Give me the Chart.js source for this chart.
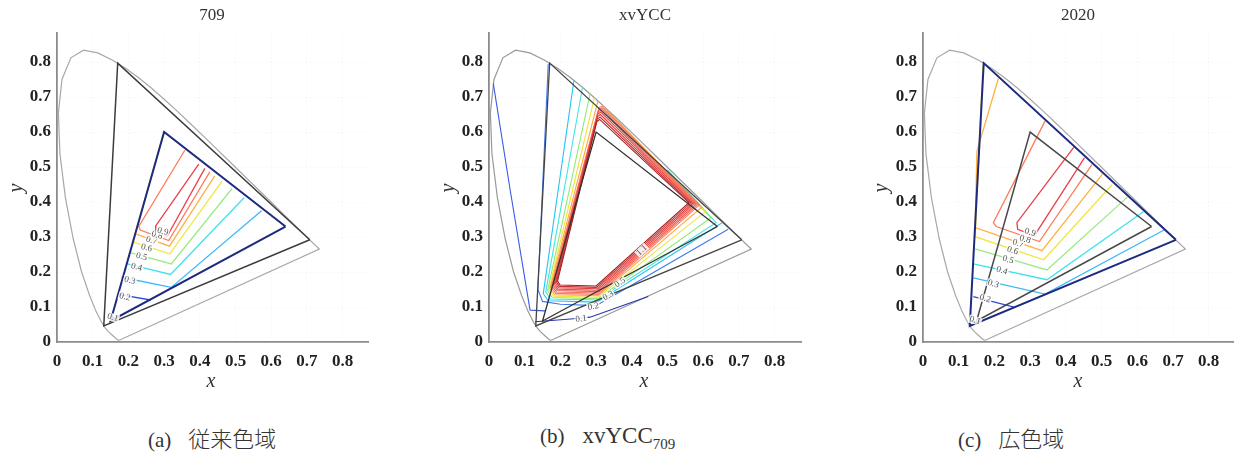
<!DOCTYPE html>
<html><head><meta charset="utf-8">
<script src="https://cdn.jsdelivr.net/npm/chart.js@4.4.1/dist/chart.umd.min.js"></script>
<style>
body{margin:0;background:#fff;width:1238px;height:459px;position:relative;overflow:hidden}
canvas{position:absolute;top:0}
.t{position:absolute;font-family:"Liberation Serif",serif;color:#333;transform:translate(-50%,-50%);white-space:nowrap;line-height:1}
.cap{position:absolute;top:438px;transform:translateY(-50%);white-space:nowrap;line-height:1;color:#333;font-size:21px}
.cap .l{font-family:"Liberation Serif",serif}
.cap .k{font-family:"Noto Sans CJK JP",sans-serif;font-weight:300;font-size:22px;margin-left:17px}
</style></head><body>
<canvas id="c1" width="385" height="400" style="left:0"></canvas>
<canvas id="c2" width="400" height="400" style="left:420px"></canvas>
<canvas id="c3" width="378" height="400" style="left:860px"></canvas>

<div class="t" style="left:212px;top:14px;font-size:17px">709</div>
<div class="t" style="left:645px;top:14px;font-size:17px">xvYCC</div>
<div class="t" style="left:1078px;top:14px;font-size:17px">2020</div>

<div class="t" style="left:211px;top:380px;font-size:20px;font-style:italic">x</div>
<div class="t" style="left:644px;top:380px;font-size:20px;font-style:italic">x</div>
<div class="t" style="left:1078px;top:380px;font-size:20px;font-style:italic">x</div>
<div class="t" style="left:15px;top:188px;font-size:20px;font-style:italic;transform:translate(-50%,-50%) rotate(-90deg)">y</div>
<div class="t" style="left:447px;top:188px;font-size:20px;font-style:italic;transform:translate(-50%,-50%) rotate(-90deg)">y</div>
<div class="t" style="left:880px;top:188px;font-size:20px;font-style:italic;transform:translate(-50%,-50%) rotate(-90deg)">y</div>

<div class="cap" style="left:148px"><span class="l">(a)</span><span class="k">従来色域</span></div>
<div class="cap" style="left:540px"><span class="l">(b)</span><span class="l" style="margin-left:18px;font-size:23px">xvYCC</span><sub class="l" style="font-size:15px">709</sub></div>
<div class="cap" style="left:958px"><span class="l">(c)</span><span class="k">広色域</span></div>

<script>
// ---------- data ----------
const tickVals = [0, 0.1, 0.2, 0.3, 0.4, 0.5, 0.6, 0.7, 0.8];

// spectral locus (x, y) closed by the purple line
const locus = [[0.1741,0.0050],[0.1714,0.0051],[0.1644,0.0109],[0.1566,0.0177],[0.1440,0.0297],[0.1355,0.0399],
 [0.1241,0.0578],[0.1096,0.0868],[0.0913,0.1327],[0.0687,0.2007],[0.0454,0.2950],[0.0235,0.4127],[0.0082,0.5384],
 [0.0039,0.6548],[0.0139,0.7502],[0.0389,0.8120],[0.0743,0.8338],[0.1142,0.8262],[0.1547,0.8059],[0.1929,0.7816],
 [0.2296,0.7543],[0.2658,0.7243],[0.3016,0.6923],[0.3373,0.6589],[0.3731,0.6245],[0.4087,0.5896],[0.4441,0.5547],
 [0.4788,0.5202],[0.5125,0.4866],[0.5448,0.4544],[0.5752,0.4242],[0.6029,0.3965],[0.6270,0.3725],[0.6658,0.3340],
 [0.6915,0.3083],[0.7079,0.2920],[0.7190,0.2809],[0.7260,0.2740],[0.7300,0.2700],[0.7334,0.2666],[0.7347,0.2653],
 [0.1741,0.0050]];

const rec709  = [[0.64,0.33],[0.30,0.60],[0.15,0.06],[0.64,0.33]];
const rec2020 = [[0.708,0.292],[0.170,0.797],[0.131,0.046],[0.708,0.292]];

// (a) contour polylines, levels 0.1 .. 0.9
const aLines = [
 [[0.153,0.072],[0.165,0.067]],
 [[0.172,0.136],[0.262,0.120]],
 [[0.181,0.185],[0.320,0.156],[0.573,0.375]],
 [[0.195,0.224],[0.318,0.193],[0.524,0.412]],
 [[0.203,0.256],[0.320,0.223],[0.490,0.438]],
 [[0.297,0.592],[0.212,0.286],[0.316,0.252],[0.462,0.459]],
 [[0.222,0.308],[0.315,0.274],[0.442,0.475]],
 [[0.358,0.548],[0.229,0.330],[0.233,0.320],[0.313,0.290],[0.428,0.486]],
 [[0.397,0.508],[0.276,0.331],[0.277,0.315],[0.309,0.303],[0.414,0.496]]
];
const aLabels = [['0.1',0.156,0.070],['0.2',0.190,0.129],['0.3',0.204,0.176],['0.4',0.223,0.214],['0.5',0.237,0.244],
 ['0.6',0.251,0.269],['0.7',0.265,0.290],['0.8',0.280,0.305],['0.9',0.296,0.316]];

// (c) contour polylines, levels 0.1 .. 0.9
const cLines = [
 [[0.133,0.062],[0.150,0.055]],
 [[0.141,0.130],[0.255,0.100]],
 [[0.141,0.183],[0.342,0.137],[0.675,0.320]],
 [[0.141,0.223],[0.347,0.178],[0.617,0.372]],
 [[0.146,0.266],[0.347,0.206],[0.572,0.414]],
 [[0.168,0.790],[0.146,0.301],[0.338,0.235],[0.530,0.450]],
 [[0.211,0.753],[0.151,0.545],[0.146,0.327],[0.333,0.261],[0.502,0.479]],
 [[0.342,0.632],[0.197,0.341],[0.205,0.330],[0.326,0.287],[0.473,0.507]],
 [[0.422,0.556],[0.263,0.341],[0.265,0.322],[0.312,0.304],[0.452,0.526]]
];
const cLabels = [['0.1',0.146,0.062],['0.2',0.174,0.124],['0.3',0.197,0.166],['0.4',0.221,0.204],['0.5',0.238,0.235],
 ['0.6',0.251,0.261],['0.7',0.266,0.282],['0.8',0.286,0.293],['0.9',0.300,0.313]];

// (b) contour polylines, outer (low) to inner (high)
const bLines = [
 [[0.012,0.739],[0.060,0.430],[0.115,0.091],[0.157,0.089]],
 [[0.129,0.058],[0.255,0.068],[0.283,0.071],[0.446,0.130]],
 [[0.166,0.795],[0.137,0.150],[0.150,0.116],[0.200,0.108],[0.300,0.104],[0.670,0.322]],
 [[0.238,0.748],[0.152,0.138],[0.166,0.118],[0.302,0.114],[0.652,0.340]],
 [[0.262,0.728],[0.159,0.143],[0.172,0.123],[0.303,0.120],[0.636,0.341],[0.500,0.492]],
 [[0.283,0.708],[0.164,0.147],[0.177,0.127],[0.305,0.124],[0.622,0.355],[0.400,0.585]],
 [[0.295,0.697],[0.168,0.150],[0.181,0.131],[0.306,0.128],[0.606,0.372],[0.330,0.660]],
 [[0.305,0.688],[0.171,0.153],[0.184,0.135],[0.306,0.132],[0.596,0.385],[0.318,0.676]],
 [[0.308,0.670],[0.174,0.156],[0.187,0.139],[0.306,0.136],[0.590,0.392],[0.316,0.673],[0.308,0.670]],
 [[0.307,0.664],[0.177,0.159],[0.189,0.143],[0.305,0.140],[0.585,0.393],[0.315,0.668],[0.307,0.664]],
 [[0.306,0.658],[0.180,0.162],[0.191,0.147],[0.304,0.144],[0.580,0.394],[0.314,0.663],[0.306,0.658]],
 [[0.305,0.651],[0.183,0.165],[0.193,0.151],[0.303,0.148],[0.575,0.395],[0.313,0.657],[0.305,0.651]],
 [[0.304,0.644],[0.186,0.168],[0.195,0.155],[0.302,0.152],[0.570,0.396],[0.312,0.650],[0.304,0.644]],
 [[0.303,0.637],[0.189,0.171],[0.197,0.159],[0.301,0.156],[0.565,0.397],[0.311,0.643],[0.303,0.637]],
 [[0.302,0.630],[0.192,0.174],[0.199,0.163],[0.300,0.160],[0.560,0.398],[0.310,0.636],[0.302,0.630]]
];
const bLabels = [['0.1',0.258,0.066],['0.2',0.292,0.101],['0.3',0.334,0.132],['0.5',0.367,0.170],['1.1',0.428,0.262]];

// ---------- styles ----------
const levelColors = ['#1c1c96','#2c4ce0','#3cb8f8','#3ee2ee','#98ec86','#efe63c','#ffb040','#ff7a58','#e8404c'];
const bColors = ['#3a5ae6','#2434b8','#3a78f0','#26c2f4','#40e6dc','#8eec74','#eee43e','#ffa83c',
 '#ff7a5a','#f86a58','#f05a50','#e84a48','#dc3c3c','#c83030','#a02020'];
const bAngles = [-0.12,-0.18,-0.5,-0.6,-0.75];

// ---------- helpers ----------
function line(pts, color, w) {
  return { data: pts.map(p => ({x: p[0], y: p[1]})), borderColor: color, borderWidth: w,
    showLine: true, pointRadius: 0, pointHoverRadius: 0, fill: false, tension: 0 };
}

const labelPlugin = {
  id: 'clabels',
  afterDatasetsDraw(chart, args, opts) {
    const {ctx, scales} = chart;
    ctx.save();
    ctx.font = '9px "Liberation Serif", serif';
    ctx.textAlign = 'center';
    ctx.textBaseline = 'middle';
    (opts.items || []).forEach((it, i) => {
      const px = scales.x.getPixelForValue(it[1]);
      const py = scales.y.getPixelForValue(it[2]);
      const ang = opts.angles ? opts.angles[i] : opts.angle;
      ctx.save();
      ctx.translate(px, py);
      ctx.rotate(ang);
      const w = ctx.measureText(it[0]).width;
      ctx.fillStyle = 'rgba(255,255,255,0.85)';
      ctx.fillRect(-w / 2 - 1, -4, w + 2, 8);
      ctx.fillStyle = '#555';
      ctx.fillText(it[0], 0, 0);
      ctx.restore();
    });
    ctx.restore();
  }
};

function makeChart(id, datasets, yW, padR, xMax, labelOpts) {
  const axisFont = {family: '"Liberation Serif", serif', size: 17, weight: 'bold'};
  const fmt = v => (v === 0 ? '0' : v.toFixed(1));
  return new Chart(document.getElementById(id), {
    type: 'scatter',
    data: {datasets},
    options: {
      responsive: false, animation: false, events: [],
      layout: {padding: {top: 33, right: padR, bottom: 0, left: 0}},
      plugins: {legend: {display: false}, tooltip: {enabled: false}, title: {display: false}, clabels: labelOpts},
      scales: {
        x: {type: 'linear', min: 0, max: xMax,
            afterBuildTicks: a => { a.ticks = tickVals.map(v => ({value: v})); },
            afterFit: s => { s.height = 58; },
            grid: {color: 'rgba(0,0,0,0.06)', lineWidth: 1, drawTicks: false},
            border: {display: true, color: '#8c8c8c', width: 1.8, dash: [1, 3]},
            ticks: {font: axisFont, color: '#222', padding: 9, callback: fmt, maxRotation: 0}},
        y: {type: 'linear', min: 0, max: 0.883,
            afterBuildTicks: a => { a.ticks = tickVals.map(v => ({value: v})); },
            afterFit: s => { s.width = yW; },
            grid: {color: 'rgba(0,0,0,0.06)', lineWidth: 1, drawTicks: false},
            border: {display: true, color: '#8c8c8c', width: 1.8, dash: [1, 3]},
            ticks: {font: axisFont, color: '#222', padding: 6, callback: fmt}}
      }
    },
    plugins: [labelPlugin]
  });
}

// ---------- panel (a) ----------
(function () {
  const ds = [];
  ds.push(line(rec709, '#1d2a7e', 2));
  ds.push(line(rec2020, '#3c3c3c', 1.5));
  for (let i = aLines.length - 1; i >= 0; i--) ds.push(line(aLines[i], levelColors[i], 1.3));
  ds.push(line(locus, '#a8a8a8', 1.2));
  makeChart('c1', ds, 57, 17, 0.871, {items: aLabels, angle: 0.26});
})();

// ---------- panel (b) ----------
(function () {
  const ds = [];
  ds.push(line(rec709, '#333333', 1.3));
  ds.push(line(rec2020, '#444444', 1.3));
  for (let i = bLines.length - 1; i >= 0; i--) ds.push(line(bLines[i], bColors[i], 1.1));
  ds.push(line(locus, '#9a9a9a', 1.2));
  makeChart('c2', ds, 69, 19, 0.874, {items: bLabels, angles: bAngles});
})();

// ---------- panel (c) ----------
(function () {
  const ds = [];
  ds.push(line(rec709, '#484848', 1.5));
  ds.push(line(rec2020, '#1d2a7e', 2));
  for (let i = cLines.length - 1; i >= 0; i--) ds.push(line(cLines[i], levelColors[i], 1.3));
  ds.push(line(locus, '#a8a8a8', 1.2));
  makeChart('c3', ds, 63, 5, 0.868, {items: cLabels, angle: 0.3});
})();
</script>
</body></html>
